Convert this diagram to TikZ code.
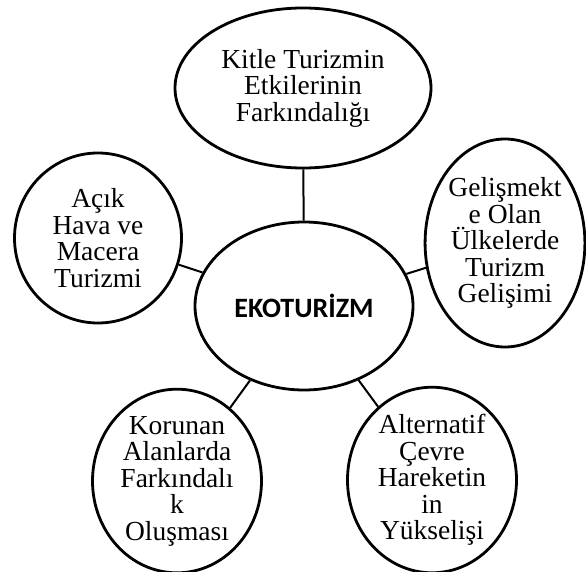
\documentclass[tikz,border=0pt]{standalone}
\usepackage{fontspec}
\setmainfont{Liberation Serif}
\newfontfamily\calibri{Carlito}
\usepackage{tikz}
\usetikzlibrary{shapes}

\begin{document}
\begin{tikzpicture}[x=1pt,y=-1pt,
  bubble/.style={draw,line width=2.8pt,ellipse,inner sep=0pt,align=center,font=\fontsize{27.5}{26.5}\selectfont},
  link/.style={line width=2pt}]
\useasboundingbox (0,0) rectangle (586,572);
\node[bubble] (e) at (304,306) [minimum width=218pt,minimum height=168pt,font=\calibri\bfseries\fontsize{28}{30}\selectfont] {EKOTURİZM};
\node[bubble] (k) at (303,88) [minimum width=256pt,minimum height=160pt] {Kitle Turizmin\\Etkilerinin\\Farkındalığı};
\node[bubble] (a) at (98,238) [minimum width=167pt,minimum height=170pt] {Açık\\Hava ve\\Macera\\Turizmi};
\node[bubble] (g) at (505,243) [minimum width=158pt,minimum height=208pt] {Gelişmekt\\e Olan\\Ülkelerde\\Turizm\\Gelişimi};
\node[bubble] (o) at (177,481) [minimum width=169pt,minimum height=166pt] {Korunan\\Alanlarda\\Farkındalı\\k\\Oluşması};
\node[bubble] (y) at (432,480) [minimum width=169pt,minimum height=166pt] {Alternatif\\Çevre\\Hareketin\\in\\Yükselişi};
% baglantilar
\draw[link] (e) -- (k);
\draw[link] (e) -- (a);
\draw[link] (e) -- (g);
\draw[link] (e) -- (o);
\draw[link] (e) -- (y);
\end{tikzpicture}
\end{document}
